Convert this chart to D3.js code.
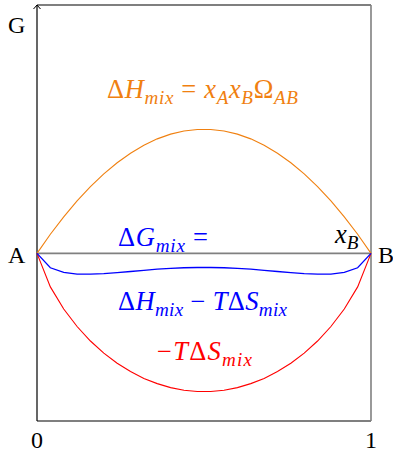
<!DOCTYPE html>
<html>
<head>
<meta charset="utf-8">
<script src="https://cdn.jsdelivr.net/npm/d3@7"></script>
<style>
  html, body { margin: 0; padding: 0; background: #fff; }
</style>
</head>
<body>
<svg id="chart" width="393" height="455"></svg>
<script>
// Mole fraction of B
const xB = [0, .04, .08, .12, .16, .20, .24, .28, .32, .36, .40, .44, .48,
            .52, .56, .60, .64, .68, .72, .76, .80, .84, .88, .92, .96, 1];
// Enthalpy of mixing (regular solution)
const dHmix = [0, .154, .294, .422, .538, .640, .730, .806, .870, .922, .960, .986, .998,
               .998, .986, .960, .922, .870, .806, .730, .640, .538, .422, .294, .154, 0];
// Entropic term -T dS_mix
const mTdSmix = [0, -.270, -.448, -.589, -.706, -.804, -.885, -.952, -1.007, -1.049, -1.081, -1.102, -1.112,
                 -1.112, -1.102, -1.081, -1.049, -1.007, -.952, -.885, -.804, -.706, -.589, -.448, -.270, 0];
// Free energy of mixing
const dGmix = [0, -.116, -.154, -.167, -.168, -.164, -.155, -.146, -.137, -.127, -.121, -.116, -.114,
               -.114, -.116, -.121, -.127, -.137, -.146, -.155, -.164, -.168, -.167, -.154, -.116, 0];
const xTicks = [0, 1];
const xTickLabels = ["0", "1"];

const FONT = "Liberation Serif";
const svg = d3.select("#chart");
const pL = 37, pR = 371, pT = 5, pB = 421;

const x = d3.scaleLinear().domain([0, 1]).range([pL, pR]);
const y = d3.scaleLinear().domain([-1.35, 2.0]).range([pB, pT]);

// frame
svg.append("line").attr("x1", pL).attr("x2", pR).attr("y1", pT).attr("y2", pT)
  .attr("stroke", "#000").attr("stroke-width", 1.2);
svg.append("line").attr("x1", pL).attr("x2", pR).attr("y1", pB).attr("y2", pB)
  .attr("stroke", "#000").attr("stroke-width", 1.2);
svg.append("line").attr("x1", pR).attr("x2", pR).attr("y1", pT).attr("y2", pB)
  .attr("stroke", "#808080").attr("stroke-width", 1.6);
svg.append("line").attr("x1", pL).attr("x2", pL).attr("y1", pT).attr("y2", pB)
  .attr("stroke", "#000").attr("stroke-width", 1.2);
// arrow head on G axis
svg.append("path")
  .attr("d", `M${pL - 3.5},${pT + 4} L${pL},${pT} L${pL + 3.5},${pT + 4}`)
  .attr("fill", "none").attr("stroke", "#000").attr("stroke-width", 1);

// zero line A–B
svg.append("line").attr("x1", x(0)).attr("x2", x(1)).attr("y1", y(0)).attr("y2", y(0))
  .attr("stroke", "#808080").attr("stroke-width", 1.8);

// x tick labels
svg.selectAll(".xt").data(xTicks).enter().append("text")
  .attr("x", d => x(d)).attr("y", 448).attr("font-family", FONT)
  .attr("text-anchor", "middle").attr("font-size", 24).attr("fill", "#000")
  .text((d, i) => xTickLabels[i]);

// curves
const line = d3.line().x(d => x(d[0])).y(d => y(d[1]));
const series = [
  { values: dHmix, color: "#f08010", w: 1.1 },
  { values: mTdSmix, color: "#ff0000", w: 1.1 },
  { values: dGmix, color: "#0000ff", w: 1.3 }
];
series.forEach(s => {
  svg.append("path")
    .datum(xB.map((v, i) => [v, s.values[i]]))
    .attr("d", line)
    .attr("fill", "none").attr("stroke", s.color).attr("stroke-width", s.w);
});

// corner letters
function plain(txt, px, py, anchor) {
  svg.append("text").attr("x", px).attr("y", py).attr("text-anchor", anchor || "start")
    .attr("font-family", FONT).attr("font-size", 24).attr("fill", "#000").text(txt);
}
plain("G", 8, 33);
plain("A", 8, 263);
plain("B", 378, 263);

// math labels built from runs: [text, italic, sub]; spacing opened up to the given width
function mathText(px, py, width, parts, color, size) {
  const t = svg.append("text").attr("x", px).attr("y", py).attr("font-family", FONT)
    .attr("font-size", size).attr("fill", color);
  let lowered = false, nChars = 0;
  parts.forEach(([txt, it, sub]) => {
    nChars += txt.length;
    const ts = t.append("tspan").text(txt).attr("font-family", FONT)
      .attr("font-style", it ? "italic" : "normal");
    if (sub) {
      ts.attr("font-size", size * 0.72);
      if (!lowered) { ts.attr("dy", size * 0.22); lowered = true; }
    } else if (lowered) {
      ts.attr("dy", -size * 0.22); lowered = false;
    }
  });
  const w = t.node().getComputedTextLength();
  if (nChars > 1 && w < width) t.attr("letter-spacing", (width - w) / (nChars - 1));
  return t;
}
const fs = 26.5;
mathText(107, 98, 191, [["Δ", 0, 0], ["H", 1, 0], ["mix", 1, 1], [" = ", 0, 0],
  ["x", 1, 0], ["A", 1, 1], ["x", 1, 0], ["B", 1, 1], ["Ω", 0, 0], ["AB", 1, 1]], "#f08010", fs);
mathText(118, 246, 90, [["Δ", 0, 0], ["G", 1, 0], ["mix", 1, 1], [" =", 0, 0]], "#0000ff", fs);
mathText(335, 243, 23, [["x", 1, 0], ["B", 1, 1]], "#000", fs);
mathText(118, 310, 169, [["Δ", 0, 0], ["H", 1, 0], ["mix", 1, 1], [" − ", 0, 0],
  ["T", 1, 0], ["Δ", 0, 0], ["S", 1, 0], ["mix", 1, 1]], "#0000ff", fs);
mathText(157, 360, 95, [["−", 0, 0], ["T", 1, 0], ["Δ", 0, 0], ["S", 1, 0], ["mix", 1, 1]], "#ff0000", fs);
</script>
</body>
</html>
